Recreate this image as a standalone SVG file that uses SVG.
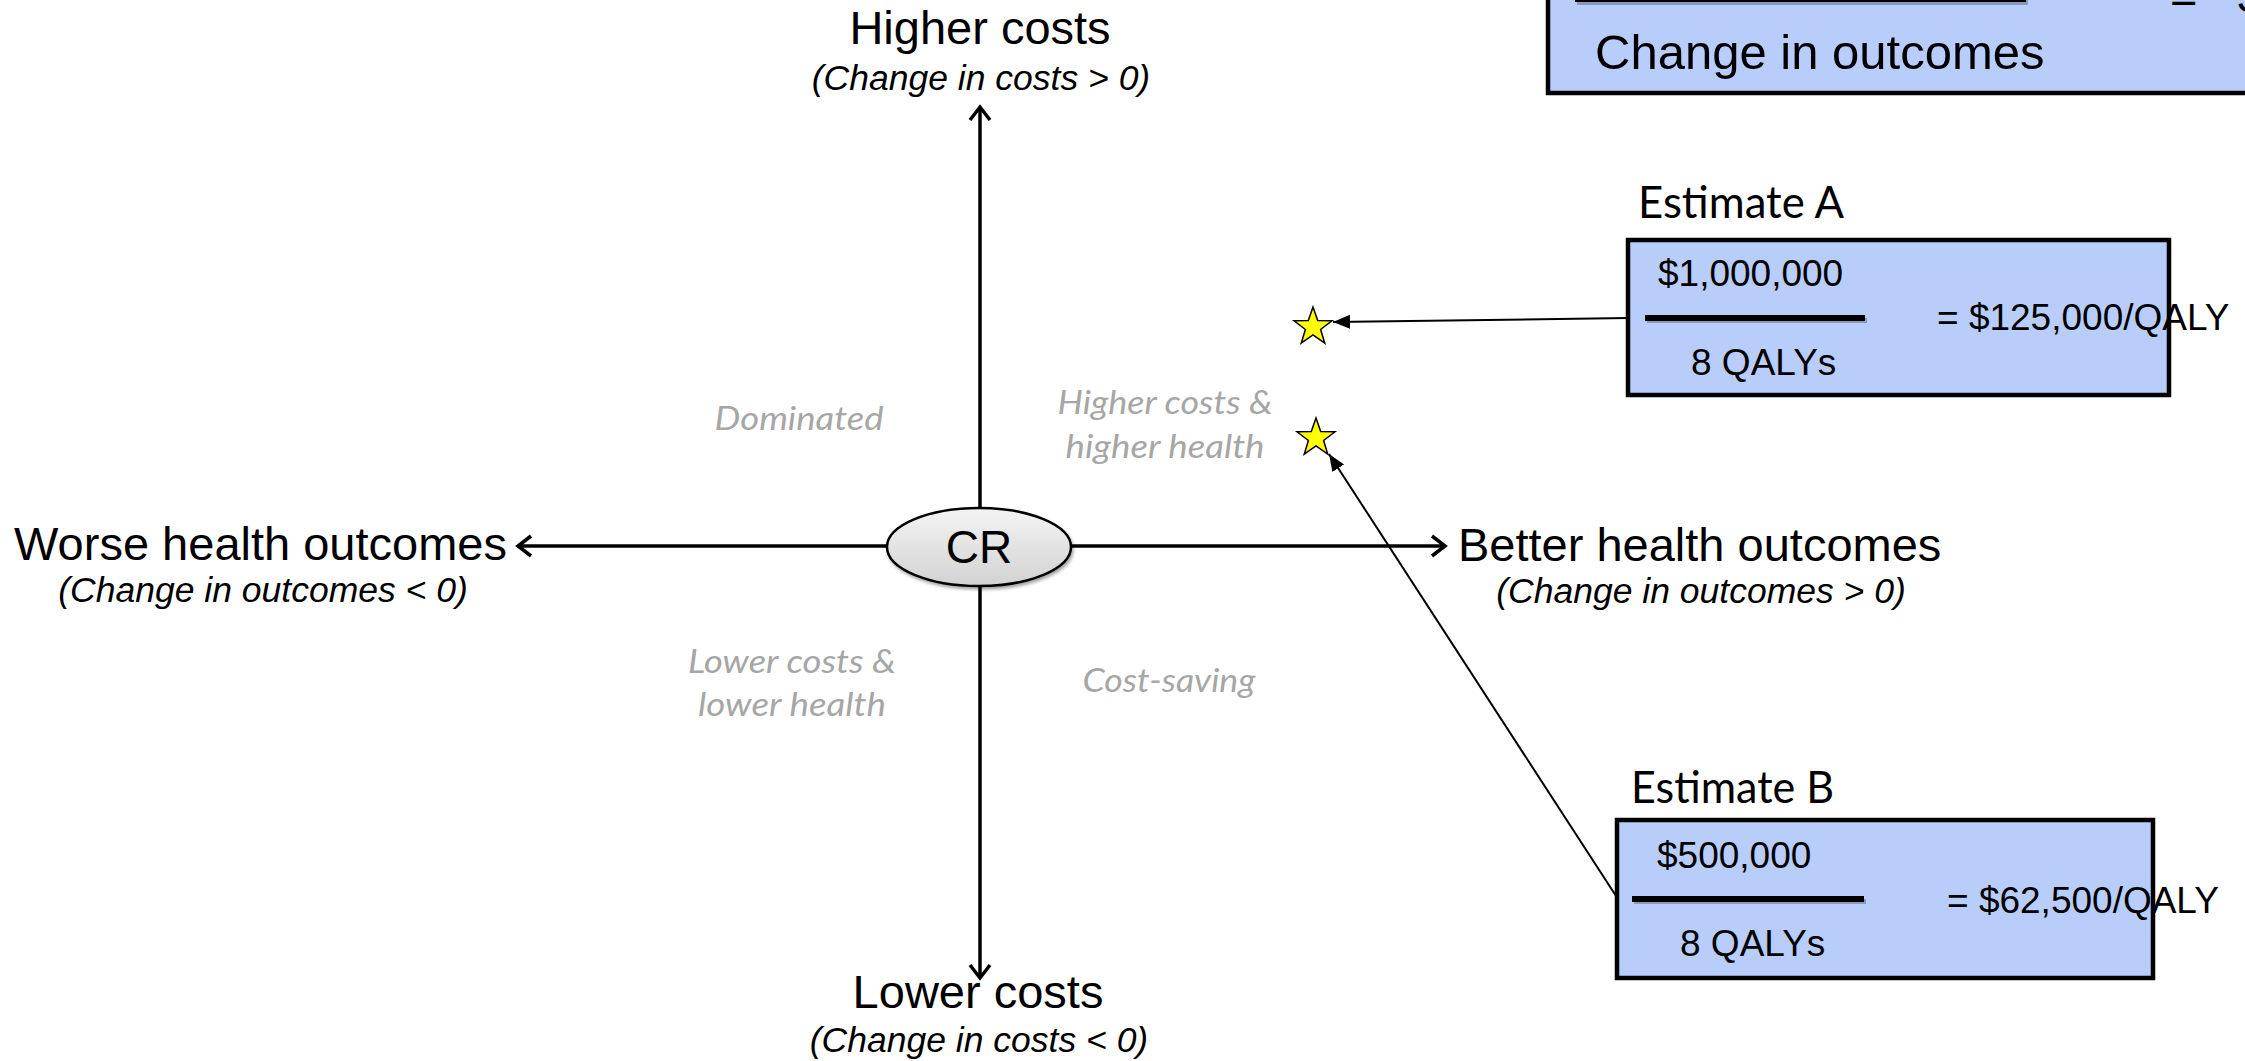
<svg xmlns="http://www.w3.org/2000/svg" width="2245" height="1061" viewBox="0 0 2245 1061">
<style>
.lbl{font-family:"Liberation Sans",Arial,sans-serif;font-size:47px;fill:#000}
.sub{font-family:"Liberation Sans",Arial,sans-serif;font-size:35.5px;font-style:italic;fill:#000}
.box{fill:#b9cdfa;stroke:#000;stroke-width:4.5}
.btxt{font-family:"Liberation Sans",Arial,sans-serif;font-size:37px;fill:#000}
.est{font-family:Lato,"Open Sans",sans-serif;font-size:44px;fill:#000}
.quad{font-family:Lato,"Open Sans",sans-serif;font-size:33px;font-style:italic;fill:#a6a6a6}
.bar{fill:#000}
.barsh{fill:#000;opacity:0.25}
.axis{stroke:#000;stroke-width:3.5;fill:none}
.conn{stroke:#000;stroke-width:2;fill:none}
.star{fill:#ffff00;stroke:#000;stroke-width:1.5}
</style>
<defs>
<filter id="sh" x="-10%" y="-20%" width="125%" height="150%">
<feDropShadow dx="1.5" dy="2.5" stdDeviation="1.5" flood-color="#000" flood-opacity="0.35"/>
</filter>
<linearGradient id="crg" x1="0" y1="0" x2="0" y2="1">
<stop offset="0" stop-color="#f4f4f4"/>
<stop offset="1" stop-color="#d2d2d2"/>
</linearGradient>
<marker id="open" markerWidth="24" markerHeight="26" refX="17" refY="13" orient="auto" markerUnits="userSpaceOnUse">
<path d="M4,3 L17,13 L4,23" fill="none" stroke="#000" stroke-width="3.5"/>
</marker>
<marker id="tri" markerWidth="18" markerHeight="16" refX="17" refY="8" orient="auto" markerUnits="userSpaceOnUse">
<path d="M0,1 L17,8 L0,15 Z" fill="#000"/>
</marker>
<path id="starshape" d="M0,-20 L4.7,-6.47 L19.02,-6.18 L7.61,2.47 L11.76,16.18 L0,8 L-11.76,16.18 L-7.61,2.47 L-19.02,-6.18 L-4.7,-6.47 Z"/>
</defs>
<rect width="2245" height="1061" fill="#fff"/>

<g id="connectors">
<line class="axis" x1="980" y1="546" x2="980" y2="107" marker-end="url(#open)"/>
<line class="axis" x1="980" y1="546" x2="980" y2="978" marker-end="url(#open)"/>
<line class="axis" x1="980" y1="546" x2="518" y2="546" marker-end="url(#open)"/>
<line class="axis" x1="980" y1="546" x2="1445" y2="546" marker-end="url(#open)"/>
<line class="conn" x1="1628" y1="318" x2="1333" y2="322" marker-end="url(#tri)"/>
<line class="conn" x1="1618" y1="899" x2="1329" y2="454" marker-end="url(#tri)"/>
</g>

<g id="axis-labels">
<text class="lbl" x="980" y="44" text-anchor="middle">Higher costs</text>
<text class="sub" x="981" y="90" text-anchor="middle">(Change in costs &gt; 0)</text>
<text class="lbl" x="978" y="1008" text-anchor="middle">Lower costs</text>
<text class="sub" x="979" y="1052" text-anchor="middle">(Change in costs &lt; 0)</text>
<text class="lbl" x="507" y="560" text-anchor="end">Worse health outcomes</text>
<text class="sub" x="263" y="602" text-anchor="middle">(Change in outcomes &lt; 0)</text>
<text class="lbl" x="1458" y="561" text-anchor="start">Better health outcomes</text>
<text class="sub" x="1701" y="603" text-anchor="middle">(Change in outcomes &gt; 0)</text>
</g>

<g id="quadrants">
<text class="quad" x="799" y="430" text-anchor="middle" textLength="169" lengthAdjust="spacingAndGlyphs">Dominated</text>
<text class="quad" x="1165" y="414" text-anchor="middle" textLength="215" lengthAdjust="spacingAndGlyphs">Higher costs &amp;</text>
<text class="quad" x="1165" y="458" text-anchor="middle" textLength="199" lengthAdjust="spacingAndGlyphs">higher health</text>
<text class="quad" x="792" y="673" text-anchor="middle" textLength="208" lengthAdjust="spacingAndGlyphs">Lower costs &amp;</text>
<text class="quad" x="792" y="716" text-anchor="middle" textLength="188" lengthAdjust="spacingAndGlyphs">lower health</text>
<text class="quad" x="1169" y="692" text-anchor="middle" textLength="173" lengthAdjust="spacingAndGlyphs">Cost-saving</text>
</g>

<g id="cr">
<ellipse cx="979" cy="547" rx="92" ry="39" fill="url(#crg)" stroke="#000" stroke-width="2.5" filter="url(#sh)"/>
<text class="lbl" x="979" y="563" text-anchor="middle" style="font-size:46px">CR</text>
</g>

<g id="formula-box">
<rect class="box" x="1548" y="-30" width="760" height="123"/>
<rect class="barsh" x="1577" y="0" width="451" height="5"/>
<rect class="bar" x="1575" y="-4" width="451" height="6"/>
<text class="lbl" x="2170" y="13" style="font-size:47px">=</text>
<text class="lbl" x="2238" y="13" style="font-size:47px">$</text>
<text class="lbl" x="1595" y="69" style="font-size:49px">Change in outcomes</text>
</g>

<g id="star-a">
<use href="#starshape" class="star" transform="translate(1313,327)"/>
</g>
<g id="star-b">
<use href="#starshape" class="star" transform="translate(1316,438)"/>
</g>

<g id="estimate-a">
<text class="est" x="1638" y="218" textLength="206" lengthAdjust="spacingAndGlyphs">Estimate A</text>
<rect class="box" x="1628" y="240" width="541" height="155"/>
<text class="btxt" x="1658" y="286">$1,000,000</text>
<rect class="barsh" x="1647" y="318" width="220" height="5"/>
<rect class="bar" x="1645" y="315" width="220" height="6"/>
<text class="btxt" x="1691" y="375">8 QALYs</text>
<text class="btxt" x="1937" y="330">= $125,000/QALY</text>
</g>

<g id="estimate-b">
<text class="est" x="1631" y="803" textLength="203" lengthAdjust="spacingAndGlyphs">Estimate B</text>
<rect class="box" x="1617" y="820" width="536" height="158"/>
<text class="btxt" x="1657" y="868">$500,000</text>
<rect class="barsh" x="1634" y="899" width="232" height="5"/>
<rect class="bar" x="1632" y="896" width="232" height="6"/>
<text class="btxt" x="1680" y="956">8 QALYs</text>
<text class="btxt" x="1947" y="913">= $62,500/QALY</text>
</g>
</svg>
